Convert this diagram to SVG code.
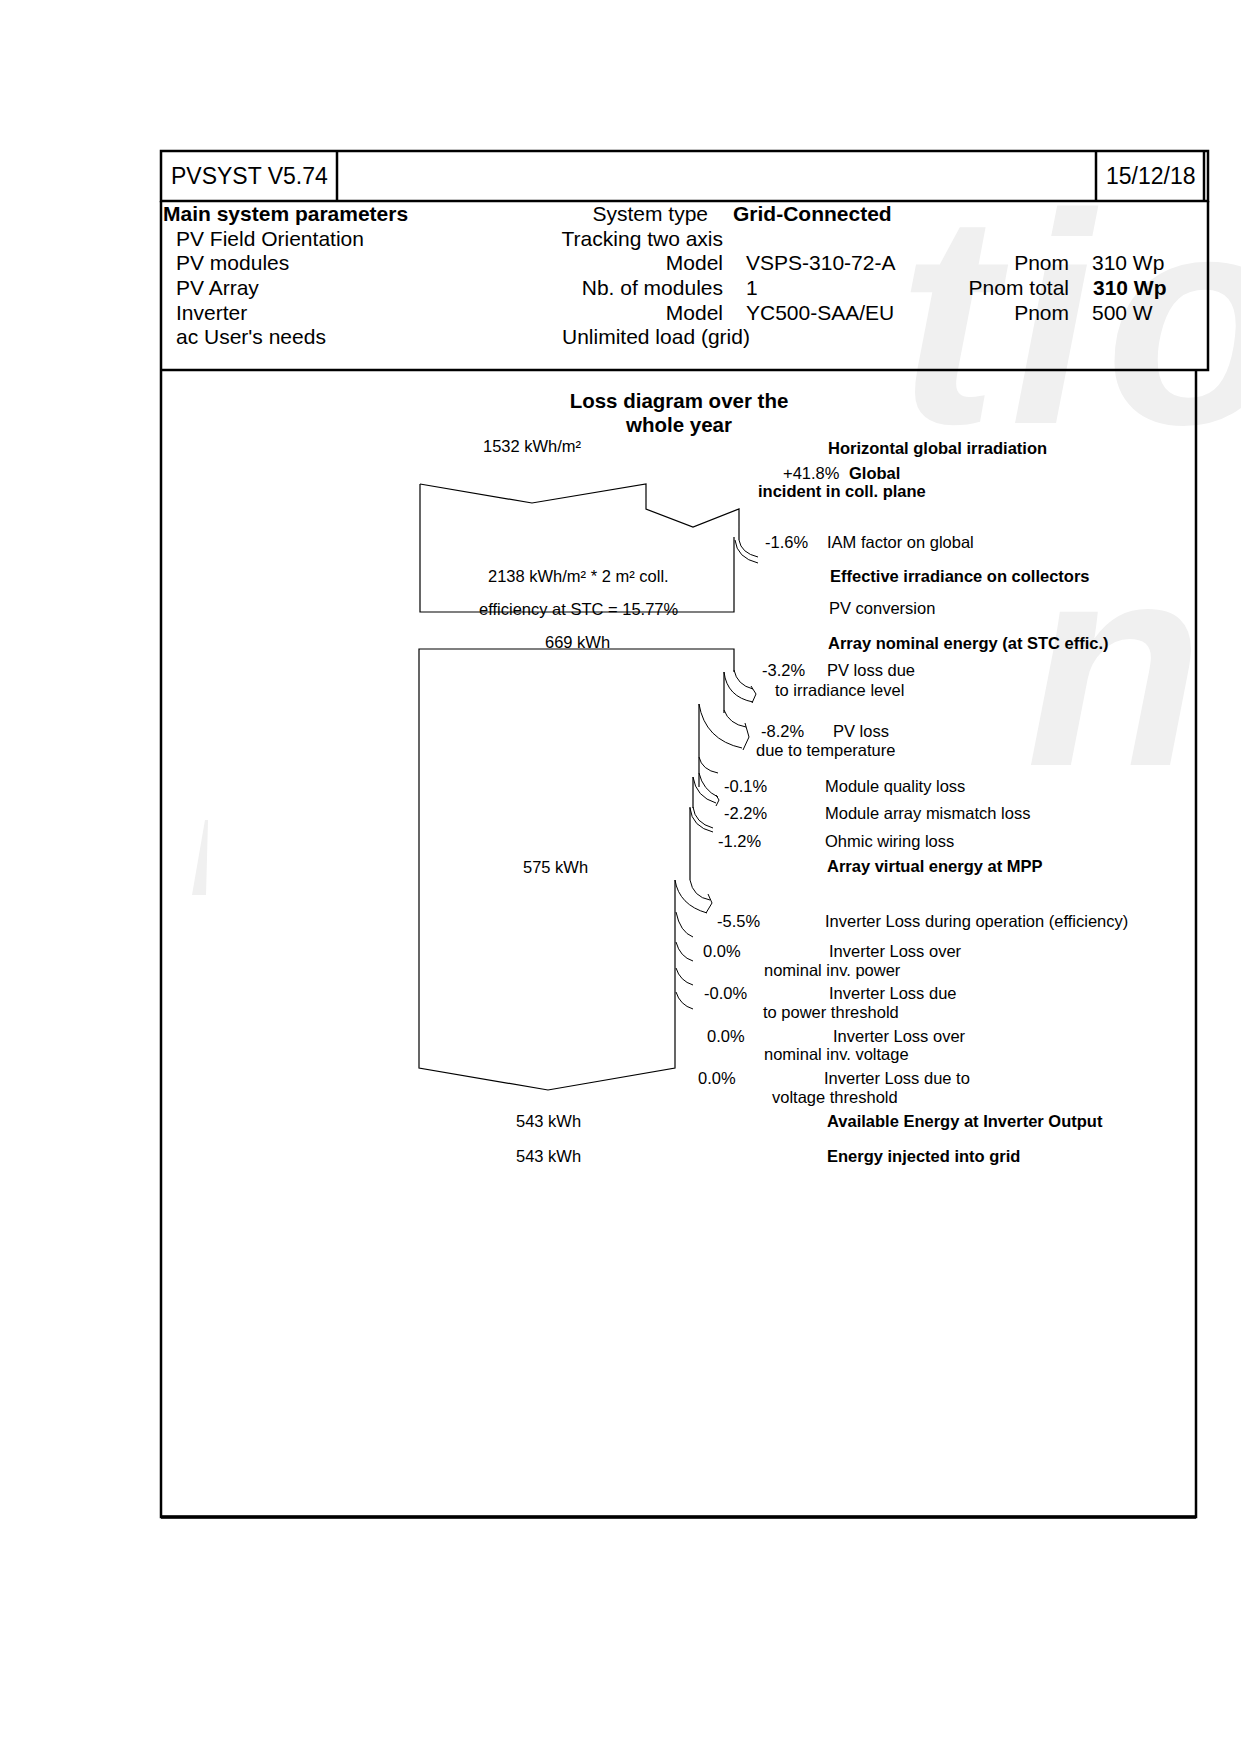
<svg xmlns="http://www.w3.org/2000/svg" width="1241" height="1754" viewBox="0 0 1241 1754">
<style>
text{font-family:"Liberation Sans",Arial,sans-serif;fill:#000}
.hd{font-size:23px}
.p{font-size:21px}
.pb{font-size:21px;font-weight:bold}
.r{text-anchor:end}
.s{font-size:16.5px}
.sb{font-size:16.5px;font-weight:bold}
.tt{font-size:20.5px;font-weight:bold;text-anchor:middle}
.wm{font-weight:bold;font-style:italic;fill:#f0f0f0}
.fr{fill:none;stroke:#000;stroke-width:2.5}
.ln{fill:none;stroke:#000;stroke-width:1.2}
.cv{fill:none;stroke:#000;stroke-width:1}
</style>
<rect width="1241" height="1754" fill="#fff"/>
<g id="watermark">
<text class="wm" x="898" y="423" font-size="300" letter-spacing="12">tio</text>
<text class="wm" x="1026" y="765" font-size="290">n</text>
<polygon points="205,820 208,820 206,895 192,895" fill="#f0f0f0"/>
</g>
<g id="frame">
<rect class="fr" x="161" y="151" width="1047" height="50"/>
<line class="fr" x1="337" y1="151" x2="337" y2="201"/>
<line class="fr" x1="1096" y1="151" x2="1096" y2="201"/>
<line class="fr" x1="1204" y1="151" x2="1204" y2="201"/>
<path class="fr" d="M161,201 L161,1517 L1196,1517 L1196,370"/>
<path class="fr" d="M1208,201 L1208,370 L161,370" stroke-width="3"/>
<line x1="161" y1="1517" x2="1196" y2="1517" stroke="#000" stroke-width="3.5"/>
</g>
<g id="header">
<text class="hd" x="171" y="184">PVSYST V5.74</text>
<text class="hd" x="1106" y="184">15/12/18</text>
</g>
<g id="params">
<text class="pb" x="163" y="221">Main system parameters</text>
<text class="p r" x="708" y="221">System type</text>
<text class="pb" x="733" y="221">Grid-Connected</text>
<text class="p" x="176" y="246">PV Field Orientation</text>
<text class="p r" x="723" y="246">Tracking two axis</text>
<text class="p" x="176" y="270">PV modules</text>
<text class="p r" x="723" y="270">Model</text>
<text class="p" x="746" y="270">VSPS-310-72-A</text>
<text class="p r" x="1069" y="270">Pnom</text>
<text class="p" x="1092" y="270">310 Wp</text>
<text class="p" x="176" y="295">PV Array</text>
<text class="p r" x="723" y="295">Nb. of modules</text>
<text class="p" x="746" y="295">1</text>
<text class="p r" x="1069" y="295">Pnom total</text>
<text class="pb" x="1093" y="295">310 Wp</text>
<text class="p" x="176" y="320">Inverter</text>
<text class="p r" x="723" y="320">Model</text>
<text class="p" x="746" y="320">YC500-SAA/EU</text>
<text class="p r" x="1069" y="320">Pnom</text>
<text class="p" x="1092" y="320">500 W</text>
<text class="p" x="176" y="344">ac User's needs</text>
<text class="p" x="562" y="344">Unlimited load (grid)</text>
</g>
<g id="title">
<text class="tt" x="679" y="408">Loss diagram over the</text>
<text class="tt" x="679" y="432">whole year</text>
</g>
<g id="box-irradiation">
<path class="ln" d="M420,484 L532,503 L646,484 L646,509 L693,527 L739,509 L739,540"/>
<path class="ln" d="M734,537 L734,612 L420,612 L420,484"/>
<text class="s" x="483" y="452">1532 kWh/m²</text>
<text class="s" x="488" y="582">2138 kWh/m² * 2 m² coll.</text>
<text class="s" x="479" y="615">efficiency at STC = 15.77%</text>
</g>
<g id="box-energy">
<path class="ln" d="M734,672 L734,649 L419,649 L419,1068 L548,1090 L675,1068 L675,880"/>
<path class="ln" d="M724,672 L724,713"/>
<path class="ln" d="M699,704 L699,787"/>
<path class="ln" d="M693,777 L693,808"/>
<path class="ln" d="M690,807 L690,880"/>
<text class="s" x="545" y="648">669 kWh</text>
<text class="s" x="523" y="873">575 kWh</text>
<text class="s" x="516" y="1127">543 kWh</text>
<text class="s" x="516" y="1162">543 kWh</text>
</g>
<g id="connectors">
<path class="cv" d="M735,540 Q737,558 758,563 M739,540 Q741,553 758,557"/>
<path class="cv" d="M734,670 Q737,685 753,689 M724,672 Q727,697 753,702 M751,686 L756,694 L752,703"/>
<path class="cv" d="M724,710 Q729,724 746,727 M699,704 Q705,740 742,748 M745,723 L749,737 L743,750"/>
<path class="cv" d="M699,757 Q702,770 718,773"/>
<path class="cv" d="M699,773 Q703,790 718,797 M693,777 Q696,797 716,803 M716,795 L719,800 L716,806"/>
<path class="cv" d="M693,807 Q695,823 713,828 M690,808 Q692,827 713,832"/>
<path class="cv" d="M690,880 Q693,897 710,900 M675,880 Q679,905 707,913 M708,894 L712,903 L706,913"/>
<path class="cv" d="M676,912 Q680,932 693,937"/>
<path class="cv" d="M676,942 Q680,957 693,961"/>
<path class="cv" d="M676,968 Q680,981 693,985"/>
<path class="cv" d="M676,992 Q680,1005 693,1009"/>
</g>
<g id="loss-labels">
<text class="sb" x="828" y="454">Horizontal global irradiation</text>
<text class="s" x="783" y="479">+41.8%</text>
<text class="sb" x="849" y="479">Global</text>
<text class="sb" x="758" y="497">incident in coll. plane</text>
<text class="s" x="765" y="548">-1.6%</text>
<text class="s" x="827" y="548">IAM factor on global</text>
<text class="sb" x="830" y="582">Effective irradiance on collectors</text>
<text class="s" x="829" y="614">PV conversion</text>
<text class="sb" x="828" y="649">Array nominal energy (at STC effic.)</text>
<text class="s" x="762" y="676">-3.2%</text>
<text class="s" x="827" y="676">PV loss due</text>
<text class="s" x="775" y="696">to irradiance level</text>
<text class="s" x="761" y="737">-8.2%</text>
<text class="s" x="833" y="737">PV loss</text>
<text class="s" x="756" y="756">due to temperature</text>
<text class="s" x="724" y="792">-0.1%</text>
<text class="s" x="825" y="792">Module quality loss</text>
<text class="s" x="724" y="819">-2.2%</text>
<text class="s" x="825" y="819">Module array mismatch loss</text>
<text class="s" x="718" y="847">-1.2%</text>
<text class="s" x="825" y="847">Ohmic wiring loss</text>
<text class="sb" x="827" y="872">Array virtual energy at MPP</text>
<text class="s" x="717" y="927">-5.5%</text>
<text class="s" x="825" y="927">Inverter Loss during operation (efficiency)</text>
<text class="s" x="703" y="957">0.0%</text>
<text class="s" x="829" y="957">Inverter Loss over</text>
<text class="s" x="764" y="976">nominal inv. power</text>
<text class="s" x="704" y="999">-0.0%</text>
<text class="s" x="829" y="999">Inverter Loss due</text>
<text class="s" x="763" y="1018">to power threshold</text>
<text class="s" x="707" y="1042">0.0%</text>
<text class="s" x="833" y="1042">Inverter Loss over</text>
<text class="s" x="764" y="1060">nominal inv. voltage</text>
<text class="s" x="698" y="1084">0.0%</text>
<text class="s" x="824" y="1084">Inverter Loss due to</text>
<text class="s" x="772" y="1103">voltage threshold</text>
<text class="sb" x="827" y="1127">Available Energy at Inverter Output</text>
<text class="sb" x="827" y="1162">Energy injected into grid</text>
</g>
</svg>
